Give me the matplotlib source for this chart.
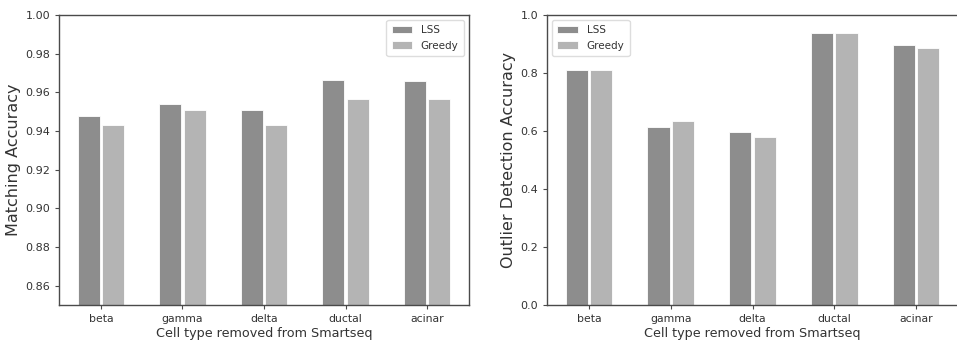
import numpy as np
import matplotlib
matplotlib.use("Agg")
import matplotlib.pyplot as plt

cell_types = ["beta", "gamma", "delta", "ductal", "acinar"]

# matching accuracy per removed cell type
match_lss = [0.9478, 0.9538, 0.9507, 0.9665, 0.9661]
match_greedy = [0.9433, 0.9510, 0.9429, 0.9565, 0.9565]

# outlier detection accuracy per removed cell type
outlier_lss = [0.810, 0.615, 0.596, 0.939, 0.897]
outlier_greedy = [0.810, 0.635, 0.581, 0.937, 0.886]

lss_color = "#8d8d8d"
greedy_color = "#b4b4b4"
spine_color = "#4a4a4a"

fig = plt.figure(figsize=(9.57, 3.42), dpi=100)
ax1 = fig.add_axes([59 / 957, 37 / 342, 410 / 957, 290 / 342])
ax2 = fig.add_axes([547 / 957, 37 / 342, 411 / 957, 290 / 342])

x = np.arange(len(cell_types))
w = 0.27


def draw(ax, lss, greedy, ylabel, loc):
    ax.bar(x - 0.15, lss, w, color=lss_color, edgecolor="white", linewidth=0.6, label="LSS")
    ax.bar(x + 0.15, greedy, w, color=greedy_color, edgecolor="white", linewidth=0.6, label="Greedy")
    ax.set_xticks(x)
    ax.set_xticklabels(cell_types, fontsize=7.8, color="#333333")
    ax.tick_params(axis="y", labelsize=8, labelcolor="#333333", color=spine_color, length=3)
    ax.tick_params(axis="x", color=spine_color, length=3)
    ax.set_xlabel("Cell type removed from Smartseq", fontsize=9.2, color="#333333", labelpad=2)
    ax.set_ylabel(ylabel, fontsize=11.5, color="#333333", labelpad=3)
    for s in ax.spines.values():
        s.set_color(spine_color)
        s.set_linewidth(1.0)
    ax.legend(loc=loc, fontsize=7.5, labelcolor="#333333", handlelength=2.0,
              borderpad=0.5, framealpha=1.0, edgecolor="#dddddd")


draw(ax1, match_lss, match_greedy, "Matching Accuracy", "upper right")
ax1.set_ylim(0.85, 1.00)
ax1.set_yticks(np.arange(0.86, 1.001, 0.02))
ax1.set_yticklabels(["%.2f" % v for v in np.arange(0.86, 1.001, 0.02)])

draw(ax2, outlier_lss, outlier_greedy, "Outlier Detection Accuracy", "upper left")
ax2.set_ylim(0.0, 1.0)
ax2.set_yticks(np.arange(0.0, 1.01, 0.2))
ax2.set_yticklabels(["%.1f" % v for v in np.arange(0.0, 1.01, 0.2)])

fig.savefig("out.png", dpi=100)
